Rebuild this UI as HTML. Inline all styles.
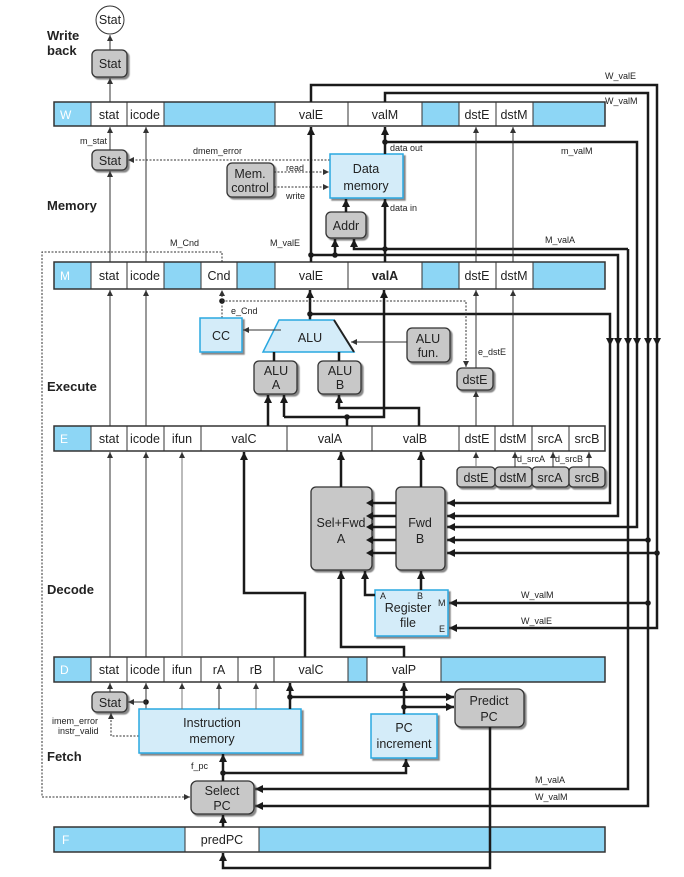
<!DOCTYPE html>
<html><head><meta charset="utf-8"><style>
body{margin:0;background:#fff}
svg{display:block}
text{font-family:"Liberation Sans",sans-serif;fill:#222}
.c{font-size:12.5px;text-anchor:middle}
.w{font-size:12px;fill:#fff}
.s{font-size:9px}
.b{font-size:13px;font-weight:bold}
.T{stroke:#1a1a1a;stroke-width:2.5;fill:none}
.t{stroke:#333;stroke-width:1;fill:none}
.g{stroke:#777;stroke-width:1;fill:none}
.d{stroke:#333;stroke-width:1;fill:none;stroke-dasharray:2,1.5}
.gb{fill:#c8c8c8;stroke:#333;stroke-width:1.3;filter:url(#sh)}
.bb{fill:#d4ecf9;stroke:#29a8e0;stroke-width:1.5;filter:url(#sh)}
.bl{fill:#8dd6f5;stroke:#333;stroke-width:1}
.wh{fill:#fff;stroke:#333;stroke-width:1}
</style></head><body>
<svg width="684" height="877" viewBox="0 0 684 877" xmlns="http://www.w3.org/2000/svg">
<defs>
<marker id="a" markerUnits="userSpaceOnUse" markerWidth="8" markerHeight="8" refX="6" refY="3" orient="auto"><path d="M0,0 L6,3 L0,6 z" fill="#333"/></marker>
<marker id="A" markerUnits="userSpaceOnUse" markerWidth="10" markerHeight="10" refX="8" refY="4" orient="auto"><path d="M0,0 L8,4 L0,8 z" fill="#1a1a1a"/></marker>
<filter id="sh" x="-10%" y="-10%" width="130%" height="130%"><feDropShadow dx="2" dy="2" stdDeviation="0.6" flood-color="#555" flood-opacity="0.7"/></filter>
</defs>

<text class="b" x="47" y="40">Write</text><text class="b" x="47" y="55">back</text>
<text class="b" x="47" y="210">Memory</text>
<text class="b" x="47" y="391">Execute</text>
<text class="b" x="47" y="594">Decode</text>
<text class="b" x="47" y="761">Fetch</text>

<!-- W row -->
<rect class="bl" x="54" y="102" width="37" height="24"/><text class="w" x="60" y="119">W</text>
<rect class="wh" x="91" y="102" width="36" height="24"/><text class="c" x="109" y="119">stat</text>
<rect class="wh" x="127" y="102" width="37" height="24"/><text class="c" x="145" y="119">icode</text>
<rect class="bl" x="164" y="102" width="111" height="24"/>
<rect class="wh" x="275" y="102" width="73" height="24"/><text class="c" x="311" y="119">valE</text>
<rect class="wh" x="348" y="102" width="74" height="24"/><text class="c" x="385" y="119">valM</text>
<rect class="bl" x="422" y="102" width="37" height="24"/>
<rect class="wh" x="459" y="102" width="37" height="24"/><text class="c" x="477" y="119">dstE</text>
<rect class="wh" x="496" y="102" width="37" height="24"/><text class="c" x="514" y="119">dstM</text>
<rect class="bl" x="533" y="102" width="72" height="24"/>
<rect x="54" y="102" width="551" height="24" fill="none" stroke="#333" stroke-width="1.5"/>

<!-- M row -->
<rect class="bl" x="54" y="262" width="37" height="27"/><text class="w" x="60" y="280">M</text>
<rect class="wh" x="91" y="262" width="36" height="27"/><text class="c" x="109" y="280">stat</text>
<rect class="wh" x="127" y="262" width="37" height="27"/><text class="c" x="145" y="280">icode</text>
<rect class="bl" x="164" y="262" width="37" height="27"/>
<rect class="wh" x="201" y="262" width="36" height="27"/><text class="c" x="219" y="280">Cnd</text>
<rect class="bl" x="237" y="262" width="38" height="27"/>
<rect class="wh" x="275" y="262" width="73" height="27"/><text class="c" x="311" y="280">valE</text>
<rect class="wh" x="348" y="262" width="74" height="27"/><text class="c" x="385" y="280" font-weight="bold">valA</text>
<rect class="bl" x="422" y="262" width="37" height="27"/>
<rect class="wh" x="459" y="262" width="37" height="27"/><text class="c" x="477" y="280">dstE</text>
<rect class="wh" x="496" y="262" width="37" height="27"/><text class="c" x="514" y="280">dstM</text>
<rect class="bl" x="533" y="262" width="72" height="27"/>
<rect x="54" y="262" width="551" height="27" fill="none" stroke="#333" stroke-width="1.5"/>

<!-- E row -->
<rect class="bl" x="54" y="426" width="37" height="25"/><text class="w" x="60" y="443">E</text>
<rect class="wh" x="91" y="426" width="36" height="25"/><text class="c" x="109" y="443">stat</text>
<rect class="wh" x="127" y="426" width="37" height="25"/><text class="c" x="145" y="443">icode</text>
<rect class="wh" x="164" y="426" width="37" height="25"/><text class="c" x="182" y="443">ifun</text>
<rect class="wh" x="201" y="426" width="86" height="25"/><text class="c" x="244" y="443">valC</text>
<rect class="wh" x="287" y="426" width="85" height="25"/><text class="c" x="330" y="443">valA</text>
<rect class="wh" x="372" y="426" width="87" height="25"/><text class="c" x="415" y="443">valB</text>
<rect class="wh" x="459" y="426" width="36" height="25"/><text class="c" x="477" y="443">dstE</text>
<rect class="wh" x="495" y="426" width="37" height="25"/><text class="c" x="513" y="443">dstM</text>
<rect class="wh" x="532" y="426" width="37" height="25"/><text class="c" x="550" y="443">srcA</text>
<rect class="wh" x="569" y="426" width="36" height="25"/><text class="c" x="587" y="443">srcB</text>
<rect x="54" y="426" width="551" height="25" fill="none" stroke="#333" stroke-width="1.5"/>

<!-- D row -->
<rect class="bl" x="54" y="657" width="37" height="25"/><text class="w" x="60" y="674">D</text>
<rect class="wh" x="91" y="657" width="36" height="25"/><text class="c" x="109" y="674">stat</text>
<rect class="wh" x="127" y="657" width="37" height="25"/><text class="c" x="145" y="674">icode</text>
<rect class="wh" x="164" y="657" width="37" height="25"/><text class="c" x="182" y="674">ifun</text>
<rect class="wh" x="201" y="657" width="37" height="25"/><text class="c" x="219" y="674">rA</text>
<rect class="wh" x="238" y="657" width="36" height="25"/><text class="c" x="256" y="674">rB</text>
<rect class="wh" x="274" y="657" width="74" height="25"/><text class="c" x="311" y="674">valC</text>
<rect class="bl" x="348" y="657" width="19" height="25"/>
<rect class="wh" x="367" y="657" width="74" height="25"/><text class="c" x="404" y="674">valP</text>
<rect class="bl" x="441" y="657" width="164" height="25"/>
<rect x="54" y="657" width="551" height="25" fill="none" stroke="#333" stroke-width="1.5"/>

<!-- F row -->
<rect class="bl" x="54" y="827" width="131" height="25"/><text class="w" x="62" y="844">F</text>
<rect class="wh" x="185" y="827" width="74" height="25"/><text class="c" x="222" y="844">predPC</text>
<rect class="bl" x="259" y="827" width="346" height="25"/>
<rect x="54" y="827" width="551" height="25" fill="none" stroke="#333" stroke-width="1.5"/>

<!-- Write back -->
<circle cx="110" cy="20" r="14" fill="#fff" stroke="#333"/><text class="c" x="110" y="24" font-size="10">Stat</text>
<rect class="gb" x="92" y="50" width="35" height="27" rx="5"/><text class="c" x="110" y="68">Stat</text>
<path class="t" d="M110,102 V78" marker-end="url(#a)"/>
<path class="t" d="M110,50 V35" marker-end="url(#a)"/>

<!-- Memory -->
<text class="s" x="80" y="144">m_stat</text>
<rect class="gb" x="92" y="150" width="35" height="20" rx="5"/><text class="c" x="110" y="165">Stat</text>
<path class="t" d="M110,150 V127" marker-end="url(#a)"/>
<path class="t" d="M110,262 V171" marker-end="url(#a)"/>
<path class="t" d="M146,262 V127" marker-end="url(#a)"/>
<text class="s" x="193" y="154">dmem_error</text>
<path class="d" d="M330,160 H128" marker-end="url(#a)"/>
<rect class="bb" x="330" y="154" width="73" height="44"/><text class="c" x="366" y="173" font-size="13">Data</text><text class="c" x="366" y="190" font-size="13">memory</text>
<rect class="gb" x="227" y="163" width="47" height="34" rx="5"/><text class="c" x="250" y="178">Mem.</text><text class="c" x="250" y="192">control</text>
<text class="s" x="286" y="171">read</text><text class="s" x="286" y="199">write</text>
<path class="d" d="M274,172 H329" marker-end="url(#a)"/>
<path class="d" d="M274,187 H329" marker-end="url(#a)"/>
<text class="s" x="390" y="151">data out</text><text class="s" x="390" y="211">data in</text>
<rect class="gb" x="326" y="212" width="40" height="26" rx="5"/><text class="c" x="346" y="230">Addr</text>
<path class="T" d="M346,212 V199" marker-end="url(#A)"/>
<text class="s" x="170" y="246">M_Cnd</text>
<text class="s" x="270" y="246">M_valE</text>
<text class="s" x="545" y="243">M_valA</text>
<text class="s" x="561" y="154">m_valM</text>
<text class="s" x="605" y="79">W_valE</text>
<text class="s" x="605" y="104">W_valM</text>

<path class="T" d="M311,102 V85 H657 V628 H449" marker-end="url(#A)"/>
<path class="T" d="M385,102 V93 H648 V806 H255" marker-end="url(#A)"/>
<path class="T" d="M385,154 V127" marker-end="url(#A)"/>
<path class="T" d="M385,142 H637 V527 H447" marker-end="url(#A)"/>
<path class="T" d="M311,262 V127" marker-end="url(#A)"/>
<path class="T" d="M311,255 H618 V516 H447" marker-end="url(#A)"/>
<path class="T" d="M335,255 V239" marker-end="url(#A)"/>
<path class="T" d="M385,262 V199" marker-end="url(#A)"/>
<path class="T" d="M628,249 H354 V239" marker-end="url(#A)"/>
<path class="T" d="M628,249 V789 H255" marker-end="url(#A)"/>
<path class="T" d="M310,320 V290" marker-end="url(#A)"/>
<path class="T" d="M310,314 H610 V503 H447" marker-end="url(#A)"/>
<path class="T" d="M648,540 H447" marker-end="url(#A)"/>
<path class="T" d="M657,553 H447" marker-end="url(#A)"/>
<path class="T" d="M648,603 H449" marker-end="url(#A)"/>
<g fill="#1a1a1a">
<path d="M606,338 L614,338 L610,346 z"/><path d="M614,338 L622,338 L618,346 z"/><path d="M624,338 L632,338 L628,346 z"/><path d="M633,338 L641,338 L637,346 z"/><path d="M644,338 L652,338 L648,346 z"/><path d="M653,338 L661,338 L657,346 z"/>
</g>
<g fill="#1a1a1a">
<circle cx="385" cy="142" r="2.8"/><circle cx="311" cy="255" r="2.8"/><circle cx="335" cy="255" r="2.8"/><circle cx="385" cy="249" r="2.8"/><circle cx="310" cy="314" r="2.8"/><circle cx="648" cy="540" r="2.8"/><circle cx="657" cy="553" r="2.8"/><circle cx="648" cy="603" r="2.8"/><circle cx="347" cy="417" r="2.8"/><circle cx="222" cy="301" r="2.8"/>
<circle cx="146" cy="702" r="2.8"/><circle cx="290" cy="697" r="2.8"/><circle cx="404" cy="707" r="2.8"/><circle cx="223" cy="773" r="2.8"/>
</g>

<!-- Execute -->
<path class="d" d="M222,262 V252 H42 V797 H190" marker-end="url(#a)"/>
<path class="d" d="M222,318 V290" marker-end="url(#a)"/>
<path class="d" d="M222,301 H466 V367" marker-end="url(#a)"/>
<text class="s" x="231" y="314">e_Cnd</text>
<rect class="bb" x="200" y="318" width="42" height="34"/><text class="c" x="221" y="340" font-size="13">CC</text>
<path d="M279,320 L334,320 L354,352 L263,352 z" fill="#d4ecf9" stroke="#29a8e0" stroke-width="1.5"/>
<path d="M334,320 L354,352" stroke="#222" stroke-width="2"/>
<text class="c" x="310" y="342" font-size="13">ALU</text>
<path class="t" d="M281,330 H243" marker-end="url(#a)"/>
<rect class="gb" x="407" y="328" width="43" height="34" rx="5"/><text class="c" x="428" y="343">ALU</text><text class="c" x="428" y="357">fun.</text>
<path class="t" d="M407,342 H351" marker-end="url(#a)"/>
<rect class="gb" x="254" y="361" width="43" height="33" rx="5"/><text class="c" x="276" y="375">ALU</text><text class="c" x="276" y="389">A</text>
<rect class="gb" x="318" y="361" width="43" height="33" rx="5"/><text class="c" x="340" y="375">ALU</text><text class="c" x="340" y="389">B</text>
<path class="T" d="M274,361 V352 M339,361 V352"/>
<text class="s" x="478" y="355">e_dstE</text>
<rect class="gb" x="457" y="368" width="36" height="22" rx="5"/><text class="c" x="475" y="384">dstE</text>
<path class="t" d="M476,426 V391" marker-end="url(#a)"/>
<path class="t" d="M476,368 V290" marker-end="url(#a)"/>
<path class="t" d="M513,426 V290" marker-end="url(#a)"/>
<path class="t" d="M476,262 V127" marker-end="url(#a)"/>
<path class="t" d="M513,262 V127" marker-end="url(#a)"/>
<path class="t" d="M110,426 V290" marker-end="url(#a)"/>
<path class="t" d="M146,426 V290" marker-end="url(#a)"/>
<path class="T" d="M284,417 H384 V290" marker-end="url(#A)"/>
<path class="T" d="M284,417 V395" marker-end="url(#A)"/>
<path class="T" d="M347,426 V417"/>
<path class="T" d="M268,426 V395" marker-end="url(#A)"/>
<path class="T" d="M419,426 V408 H339 V395" marker-end="url(#A)"/>

<!-- Decode -->
<rect class="gb" x="457" y="467" width="38" height="20" rx="4"/><text class="c" x="476" y="482">dstE</text>
<rect class="gb" x="495" y="467" width="37" height="20" rx="4"/><text class="c" x="513" y="482">dstM</text>
<rect class="gb" x="532" y="467" width="37" height="20" rx="4"/><text class="c" x="550" y="482">srcA</text>
<rect class="gb" x="569" y="467" width="36" height="20" rx="4"/><text class="c" x="587" y="482">srcB</text>
<path class="g" d="M476,467 V452" marker-end="url(#a)"/>
<path class="t" d="M515,467 V452" marker-end="url(#a)"/>
<path class="t" d="M553,467 V452" marker-end="url(#a)"/>
<path class="t" d="M589,467 V452" marker-end="url(#a)"/>
<text class="s" x="517" y="462">d_srcA</text><text class="s" x="555" y="462">d_srcB</text>
<rect class="gb" x="311" y="487" width="61" height="83" rx="5"/><text class="c" x="341" y="527" font-size="13">Sel+Fwd</text><text class="c" x="341" y="543" font-size="13">A</text>
<rect class="gb" x="396" y="487" width="49" height="83" rx="5"/><text class="c" x="420" y="527" font-size="13">Fwd</text><text class="c" x="420" y="543" font-size="13">B</text>
<path class="T" d="M396,503 H373 M396,516 H373 M396,527 H373 M396,540 H373 M396,553 H373"/>
<g fill="#1a1a1a"><path d="M373,499 l-7,4 l7,4 z"/><path d="M373,512 l-7,4 l7,4 z"/><path d="M373,523 l-7,4 l7,4 z"/><path d="M373,536 l-7,4 l7,4 z"/><path d="M373,549 l-7,4 l7,4 z"/></g>
<path class="T" d="M341,487 V452" marker-end="url(#A)"/>
<path class="T" d="M421,487 V452" marker-end="url(#A)"/>
<rect class="bb" x="375" y="590" width="73" height="46"/>
<text class="s" x="380" y="599">A</text><text class="s" x="417" y="599">B</text><text class="s" x="438" y="606">M</text><text class="s" x="439" y="632">E</text>
<text class="c" x="408" y="612" font-size="13">Register</text><text class="c" x="408" y="627" font-size="13">file</text>
<path class="T" d="M375,595 H365 V571" marker-end="url(#A)"/>
<path class="T" d="M421,590 V571" marker-end="url(#A)"/>
<text class="s" x="521" y="598">W_valM</text><text class="s" x="521" y="624">W_valE</text>
<path class="T" d="M305,657 V593 H244 V452" marker-end="url(#A)"/>
<path class="T" d="M404,657 V647 H341 V571" marker-end="url(#A)"/>
<path class="t" d="M110,657 V452" marker-end="url(#a)"/>
<path class="t" d="M146,657 V452" marker-end="url(#a)"/>
<path class="g" d="M182,657 V452" marker-end="url(#a)"/>

<!-- Fetch -->
<rect class="gb" x="92" y="692" width="35" height="20" rx="5"/><text class="c" x="110" y="707">Stat</text>
<path class="t" d="M110,692 V683" marker-end="url(#a)"/>
<path class="t" d="M146,709 V683" marker-end="url(#a)"/>
<path class="t" d="M146,702 H128" marker-end="url(#a)"/>
<path class="d" d="M139,736 H111 V713" marker-end="url(#a)"/>
<text class="s" x="52" y="724">imem_error</text><text class="s" x="58" y="734">instr_valid</text>
<rect class="bb" x="139" y="709" width="162" height="44"/><text class="c" x="212" y="727" font-size="13">Instruction</text><text class="c" x="212" y="743" font-size="13">memory</text>
<path class="g" d="M182,709 V683" marker-end="url(#a)"/>
<path class="t" d="M219,709 V683" marker-end="url(#a)"/>
<path class="g" d="M256,709 V683" marker-end="url(#a)"/>
<path class="T" d="M290,709 V683" marker-end="url(#A)"/>
<path class="T" d="M290,697 H454" marker-end="url(#A)"/>
<rect class="bb" x="371" y="714" width="66" height="44"/><text class="c" x="404" y="732" font-size="13">PC</text><text class="c" x="404" y="748" font-size="13">increment</text>
<path class="T" d="M404,714 V683" marker-end="url(#A)"/>
<path class="T" d="M404,707 H454" marker-end="url(#A)"/>
<rect class="gb" x="455" y="689" width="69" height="38" rx="6"/><text class="c" x="489" y="705" font-size="13">Predict</text><text class="c" x="489" y="721" font-size="13">PC</text>
<path class="T" d="M490,727 V868 H223 V853" marker-end="url(#A)"/>
<text class="s" x="191" y="769">f_pc</text>
<rect class="gb" x="191" y="781" width="63" height="33" rx="6"/><text class="c" x="222" y="795" font-size="13">Select</text><text class="c" x="222" y="810" font-size="13">PC</text>
<path class="T" d="M223,827 V815" marker-end="url(#A)"/>
<path class="T" d="M223,781 V754" marker-end="url(#A)"/>
<path class="T" d="M223,773 H406 V759" marker-end="url(#A)"/>
<text class="s" x="535" y="783">M_valA</text><text class="s" x="535" y="800">W_valM</text>
</svg>
</body></html>
